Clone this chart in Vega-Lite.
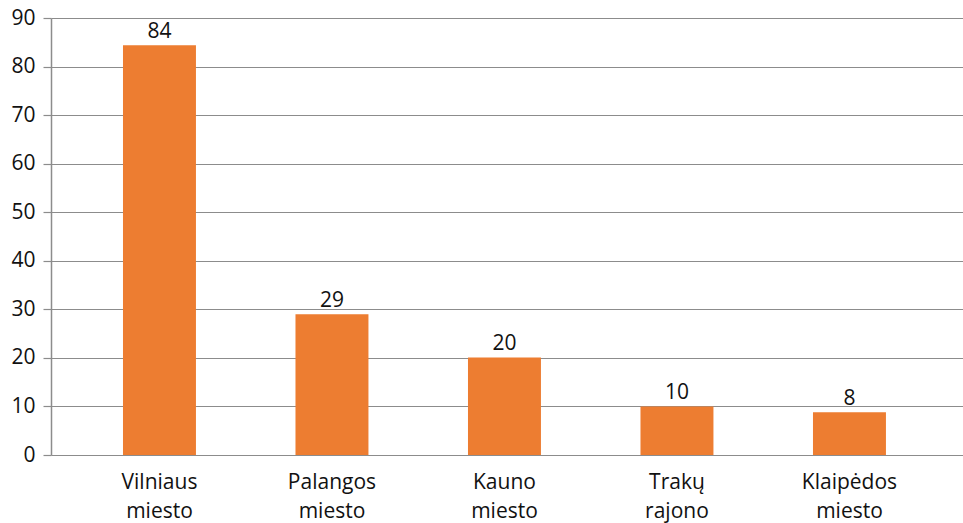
{
  "$schema": "https://vega.github.io/schema/vega-lite/v6.json",
  "width": 912,
  "height": 437,
  "autosize": "none",
  "padding": {"left": 51, "top": 18, "right": 0, "bottom": 68},
  "background": "white",
  "config": {"view": {"stroke": null}, "font": "Open Sans"},
  "data": {"values": [
    {"region": "Vilniaus miesto", "value": 84.4, "label": "84"},
    {"region": "Palangos miesto", "value": 29, "label": "29"},
    {"region": "Kauno miesto", "value": 20.1, "label": "20"},
    {"region": "Trakų rajono", "value": 10, "label": "10"},
    {"region": "Klaipėdos miesto", "value": 8.8, "label": "8"}
  ]},
  "encoding": {
    "x": {"field": "region", "type": "nominal", "sort": null,
      "scale": {"paddingInner": 0.577, "paddingOuter": 0.432, "align": 0.483},
      "axis": {"title": null, "labelAngle": 0, "ticks": false, "domain": false,
        "labelExpr": "split(datum.label, ' ')", "labelFontSize": 21, "labelColor": "#111",
        "labelPadding": 16, "labelLineHeight": 29, "labelFont": "Open Sans"}},
    "y": {"field": "value", "type": "quantitative",
      "scale": {"domain": [0, 90]},
      "axis": {"title": null, "values": [0,10,20,30,40,50,60,70,80,90], "grid": true,
        "gridColor": "#8c8c8c", "gridWidth": 1.2, "domainColor": "#8c8c8c", "domainWidth": 1.5,
        "tickColor": "#8c8c8c", "tickSize": 8, "tickWidth": 1.2, "labelFontSize": 21,
        "labelColor": "#111", "labelPadding": 8, "labelFont": "Open Sans"}}
  },
  "layer": [
    {"mark": {"type": "bar", "color": "#ED7D31"}},
    {"mark": {"type": "text", "dy": -13, "fontSize": 21, "color": "#111", "font": "Open Sans"},
     "encoding": {"text": {"field": "label"}}}
  ]
}
